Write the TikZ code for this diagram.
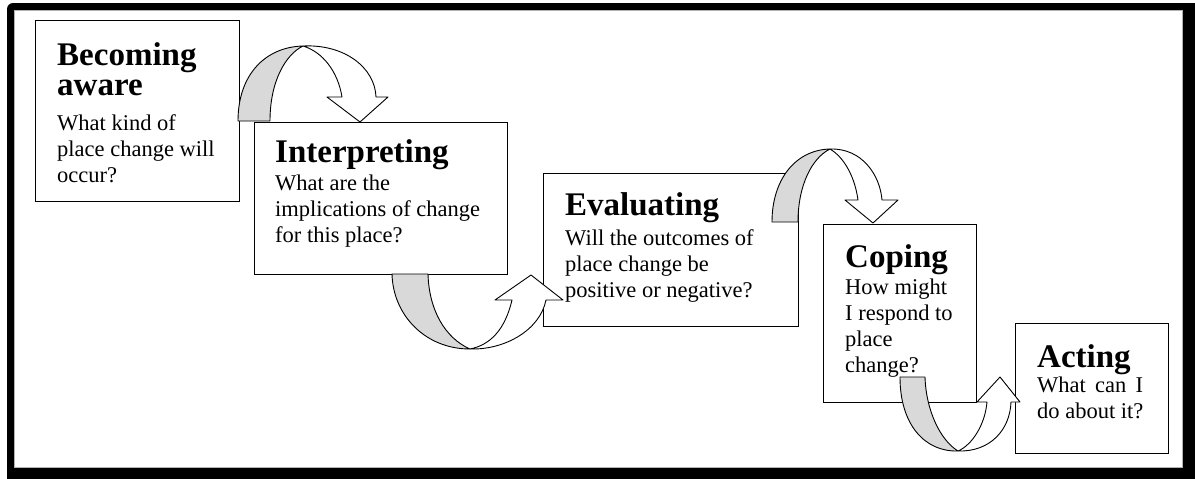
\documentclass[tikz,border=0pt]{standalone}
\usepackage{fontspec}
\setmainfont{Liberation Serif}

\begin{document}
\begin{tikzpicture}[x=1pt, y=-1pt,
        stage/.style={rectangle, draw, line width=1.2pt, fill=white, anchor=north west, inner sep=0pt},
        ttl/.style={anchor=base west, inner sep=0pt, align=left, font=\bfseries\fontsize{33}{30}\selectfont},
        qst/.style={anchor=base west, inner sep=0pt, align=left, font=\fontsize{22.5}{26}\selectfont},
        back/.style={draw, line width=0.9pt, fill=gray!30, line join=round},
        front/.style={draw, line width=0.9pt, fill=white, line join=round}
    ]
    \useasboundingbox (0,0) rectangle (1195,479);

    %% ---- frame ----
    \fill[black, rounded corners=6pt] (7,3) rectangle (1200,484);
    \draw[fill=white, draw=gray!60, line width=0.6pt] (14,10) rectangle (1182,467);

    %% ---- stages ----
    \node[stage, minimum width=204pt, minimum height=181pt] (aware)  at (35,20)   {};
    \node[stage, minimum width=253pt, minimum height=152pt] (interp) at (254,122)  {};
    \node[stage, minimum width=255pt, minimum height=153pt] (evalu)  at (543,173)  {};
    \node[stage, minimum width=153pt, minimum height=178pt] (coping) at (823,224)  {};
    \node[stage, minimum width=153pt, minimum height=130pt] (acting) at (1015,323) {};

    % texts (anchored on the baseline of their last line)
    \node[ttl] (aware-t)  at (57,95)    {Becoming\\aware};
    \node[qst] (aware-q)  at (57,182)   {What kind of\\place change will\\occur?};
    \node[ttl] (interp-t) at (275,162)  {Interpreting};
    \node[qst] (interp-q) at (275,242)  {What are the\\implications of change\\for this place?};
    \node[ttl] (evalu-t)  at (565,215)  {Evaluating};
    \node[qst] (evalu-q)  at (565,297)  {Will the outcomes of\\place change be\\positive or negative?};
    \node[ttl] (coping-t) at (845,267)  {Coping};
    \node[qst] (coping-q) at (845,372)  {How might\\I respond to\\place\\change?};
    \node[ttl] (acting-t) at (1037,367) {Acting};
    \node[qst] (acting-q) at (1037,418) {\makebox[106pt][s]{What can I}\\do about it?};

    %% ---- curved arrows ----
    % aware -> interp
    \draw[back]  (238,121) .. controls (238,75) and (265,47) .. (303,46)
                 .. controls (285,55) and (270,82) .. (270,121) -- cycle;
    \draw[front] (303,46) .. controls (345,44) and (375,68) .. (376,97)
                 -- (388,97) -- (360,122) -- (327,97) -- (342,97)
                 .. controls (338,72) and (323,52) .. (303,46) -- cycle;
    % interp -> evalu
    \draw[back]  (392,274) .. controls (393,315) and (425,349) .. (470,349)
                 .. controls (445,338) and (429,310) .. (428,274) -- cycle;
    \draw[front] (470,349) .. controls (505,350) and (540,330) .. (546,300)
                 -- (563,300) -- (531,275) -- (495,300) -- (512,300)
                 .. controls (505,330) and (490,345) .. (470,349) -- cycle;
    % evalu -> coping
    \draw[back]  (772,222) .. controls (772,180) and (795,150) .. (830,149)
                 .. controls (812,158) and (798,185) .. (798,222) -- cycle;
    \draw[front] (830,149) .. controls (862,148) and (880,175) .. (882,200)
                 -- (898,200) -- (873,223) -- (845,200) -- (858,200)
                 .. controls (855,178) and (845,158) .. (830,149) -- cycle;
    % coping -> acting
    \draw[back]  (900,377) .. controls (900,425) and (925,452) .. (958,451)
                 .. controls (940,440) and (926,410) .. (925,377) -- cycle;
    \draw[front] (958,451) .. controls (990,452) and (1010,430) .. (1011,402)
                 -- (1020,402) -- (1000,377) -- (977,402) -- (987,402)
                 .. controls (985,425) and (972,445) .. (958,451) -- cycle;

\end{tikzpicture}
\end{document}
